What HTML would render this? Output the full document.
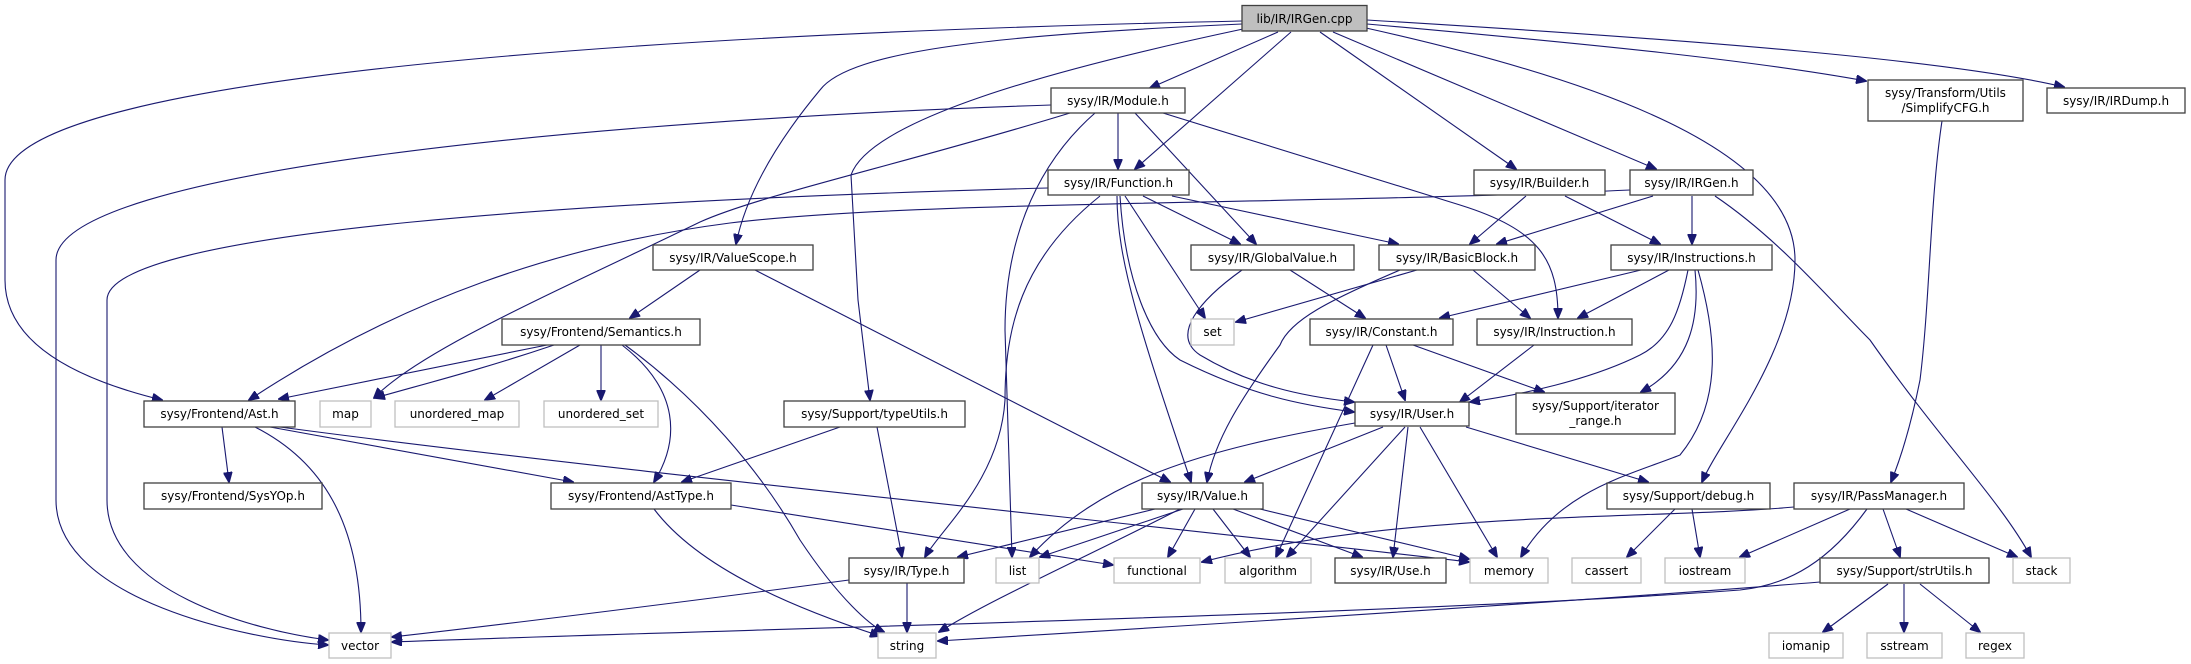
<!DOCTYPE html>
<html><head><meta charset="utf-8"><style>
html,body{margin:0;padding:0;background:#fff;}
svg{display:block;}
text{font-family:"DejaVu Sans","Liberation Sans",sans-serif;font-size:12px;fill:#000;}
.n{fill:#fff;stroke:#404040;stroke-width:1.3;}
.s{fill:#fff;stroke:#bfbfbf;stroke-width:1.3;}
.r{fill:#bfbfbf;stroke:#404040;stroke-width:1.3;}
path.e{fill:none;stroke:#191970;stroke-width:1.1;}
</style></head><body>
<svg width="2191" height="664" viewBox="0 0 2191 664" xmlns="http://www.w3.org/2000/svg">
<defs><marker id="a" markerUnits="userSpaceOnUse" markerWidth="11" markerHeight="9" refX="10" refY="4.5" orient="auto"><path d="M0,0 L11,4.5 L0,9 z" fill="#191970" stroke="#191970"/></marker></defs>
<g marker-end="url(#a)">
<path class="e" d="M1242,21 C600,35 5,80 5,180 L5,280 C5,345 80,380 162,400"/>
<path class="e" d="M1242,24 C1000,35 850,50 820,90 C770,150 745,200 736,244"/>
<path class="e" d="M1243,29 C1050,70 870,120 851,175 L858,300 L870,400"/>
<path class="e" d="M1278,32 L1150,88"/>
<path class="e" d="M1291,32 L1135,169"/>
<path class="e" d="M1320,32 L1516,169"/>
<path class="e" d="M1333,32 L1656,169"/>
<path class="e" d="M1366,28 C1600,80 1795,150 1795,260 C1795,350 1720,440 1702,482"/>
<path class="e" d="M1367,24 C1600,45 1750,60 1866,81"/>
<path class="e" d="M1367,20 C1700,40 1950,60 2064,87"/>
<path class="e" d="M1051,105 C600,120 56,170 56,260 L56,500 C56,600 250,640 328,645"/>
<path class="e" d="M1070,113 C900,165 760,195 700,222 C560,290 420,350 374,398"/>
<path class="e" d="M1095,113 C1030,170 1005,250 1005,330 L1012,557"/>
<path class="e" d="M1118,113 L1118,169"/>
<path class="e" d="M1135,113 L1256,244"/>
<path class="e" d="M1163,113 L1460,205 C1540,230 1558,260 1558,318"/>
<path class="e" d="M1048,188 C600,200 107,230 107,300 L107,500 C107,590 250,630 328,640"/>
<path class="e" d="M1100,196 C1020,260 1005,330 1005,400 C1000,480 940,530 925,557"/>
<path class="e" d="M1117,196 C1117,260 1140,330 1191,482"/>
<path class="e" d="M1120,196 C1125,280 1150,340 1180,360 C1250,395 1300,405 1354,412"/>
<path class="e" d="M1125,196 L1205,318"/>
<path class="e" d="M1143,196 L1240,244"/>
<path class="e" d="M1172,196 L1398,244"/>
<path class="e" d="M1630,190 C1300,205 920,200 730,223 C560,245 400,300 249,400"/>
<path class="e" d="M1653,196 L1497,244"/>
<path class="e" d="M1692,196 L1692,244"/>
<path class="e" d="M1715,196 C1780,240 1830,300 1870,340 C1940,440 2000,500 2031,557"/>
<path class="e" d="M1526,196 L1470,244"/>
<path class="e" d="M1565,196 L1660,244"/>
<path class="e" d="M700,270 L630,318"/>
<path class="e" d="M755,270 L1170,482"/>
<path class="e" d="M1290,270 L1365,318"/>
<path class="e" d="M1242,270 C1200,300 1170,335 1200,355 C1250,385 1300,396 1354,402"/>
<path class="e" d="M1417,270 L1236,322"/>
<path class="e" d="M1473,270 L1530,318"/>
<path class="e" d="M1400,270 C1330,300 1290,320 1280,345 C1240,400 1215,440 1207,482"/>
<path class="e" d="M1641,270 L1440,318"/>
<path class="e" d="M1669,270 L1578,318"/>
<path class="e" d="M1688,270 C1680,310 1670,340 1640,355 C1590,380 1520,395 1470,402"/>
<path class="e" d="M1695,270 C1700,320 1690,365 1641,392"/>
<path class="e" d="M1698,270 C1715,330 1725,400 1680,455 C1630,475 1560,490 1521,557"/>
<path class="e" d="M1534,345 L1460,402"/>
<path class="e" d="M1373,345 L1276,557"/>
<path class="e" d="M1386,345 L1405,400"/>
<path class="e" d="M1413,345 L1544,392"/>
<path class="e" d="M1355,423 C1200,450 1100,480 1030,557"/>
<path class="e" d="M1383,427 L1245,482"/>
<path class="e" d="M1405,427 L1287,557"/>
<path class="e" d="M1408,427 L1393,557"/>
<path class="e" d="M1420,427 L1497,557"/>
<path class="e" d="M1466,427 L1648,482"/>
<path class="e" d="M1155,509 L958,557"/>
<path class="e" d="M1183,509 L1040,557"/>
<path class="e" d="M1180,509 C1080,560 990,600 939,632"/>
<path class="e" d="M1195,509 L1168,557"/>
<path class="e" d="M1213,509 L1250,557"/>
<path class="e" d="M1233,509 L1362,557"/>
<path class="e" d="M1260,509 L1469,559"/>
<path class="e" d="M222,427 L229,482"/>
<path class="e" d="M255,427 C320,460 361,520 361,632"/>
<path class="e" d="M270,427 L573,482"/>
<path class="e" d="M280,427 C600,470 1200,530 1469,562"/>
<path class="e" d="M547,345 L279,399"/>
<path class="e" d="M554,345 C480,370 420,385 375,398"/>
<path class="e" d="M580,345 L485,400"/>
<path class="e" d="M601,345 L601,400"/>
<path class="e" d="M622,345 C680,390 680,440 654,482"/>
<path class="e" d="M625,345 C700,400 760,470 800,540 C840,600 870,625 884,632"/>
<path class="e" d="M840,427 L682,482"/>
<path class="e" d="M877,427 L902,557"/>
<path class="e" d="M654,509 C700,570 800,610 880,636"/>
<path class="e" d="M731,505 L1113,565"/>
<path class="e" d="M849,580 C700,600 500,625 392,637"/>
<path class="e" d="M907,583 L907,632"/>
<path class="e" d="M1942,121 C1930,200 1930,300 1920,380 C1910,430 1900,460 1891,482"/>
<path class="e" d="M1675,509 L1627,557"/>
<path class="e" d="M1692,509 L1700,557"/>
<path class="e" d="M1794,507 C1650,520 1400,510 1202,562"/>
<path class="e" d="M1867,509 C1830,560 1790,585 1740,590 C1400,615 700,630 392,642"/>
<path class="e" d="M1850,509 L1740,557"/>
<path class="e" d="M1883,509 L1900,557"/>
<path class="e" d="M1906,509 L2017,557"/>
<path class="e" d="M1820,582 C1600,600 1200,625 938,641"/>
<path class="e" d="M1888,584 L1823,632"/>
<path class="e" d="M1904,584 L1904,632"/>
<path class="e" d="M1920,584 L1980,632"/>
</g>
<rect class="r" x="1242" y="5.5" width="125" height="25.5"/><text x="1304.5" y="23" text-anchor="middle">lib/IR/IRGen.cpp</text>
<rect class="n" x="1051" y="88" width="134" height="25"/><text x="1118" y="105" text-anchor="middle">sysy/IR/Module.h</text>
<rect class="n" x="1868" y="80" width="155" height="41"/><text x="1945.5" y="97" text-anchor="middle">sysy/Transform/Utils</text><text x="1945.5" y="112" text-anchor="middle">/SimplifyCFG.h</text>
<rect class="n" x="2047" y="88" width="138" height="25"/><text x="2116" y="105" text-anchor="middle">sysy/IR/IRDump.h</text>
<rect class="n" x="1048" y="170" width="141" height="25"/><text x="1118.5" y="187" text-anchor="middle">sysy/IR/Function.h</text>
<rect class="n" x="1474" y="170" width="131" height="25"/><text x="1539.5" y="187" text-anchor="middle">sysy/IR/Builder.h</text>
<rect class="n" x="1630" y="170" width="123" height="25"/><text x="1691.5" y="187" text-anchor="middle">sysy/IR/IRGen.h</text>
<rect class="n" x="653" y="245" width="160" height="25"/><text x="733" y="262" text-anchor="middle">sysy/IR/ValueScope.h</text>
<rect class="n" x="1191" y="245" width="163" height="25"/><text x="1272.5" y="262" text-anchor="middle">sysy/IR/GlobalValue.h</text>
<rect class="n" x="1379" y="245" width="156" height="25"/><text x="1457" y="262" text-anchor="middle">sysy/IR/BasicBlock.h</text>
<rect class="n" x="1611" y="245" width="161" height="25"/><text x="1691.5" y="262" text-anchor="middle">sysy/IR/Instructions.h</text>
<rect class="n" x="502" y="319" width="198" height="26"/><text x="601" y="336" text-anchor="middle">sysy/Frontend/Semantics.h</text>
<rect class="s" x="1191" y="319" width="43" height="26"/><text x="1212.5" y="336" text-anchor="middle">set</text>
<rect class="n" x="1310" y="319" width="143" height="26"/><text x="1381.5" y="336" text-anchor="middle">sysy/IR/Constant.h</text>
<rect class="n" x="1477" y="319" width="155" height="26"/><text x="1554.5" y="336" text-anchor="middle">sysy/IR/Instruction.h</text>
<rect class="n" x="1516" y="393" width="159" height="41"/><text x="1595.5" y="410" text-anchor="middle">sysy/Support/iterator</text><text x="1595.5" y="425" text-anchor="middle">_range.h</text>
<rect class="n" x="144" y="401" width="151" height="26"/><text x="219.5" y="418" text-anchor="middle">sysy/Frontend/Ast.h</text>
<rect class="s" x="320" y="401" width="51" height="26"/><text x="345.5" y="418" text-anchor="middle">map</text>
<rect class="s" x="395" y="401" width="124" height="26"/><text x="457" y="418" text-anchor="middle">unordered_map</text>
<rect class="s" x="544" y="401" width="114" height="26"/><text x="601" y="418" text-anchor="middle">unordered_set</text>
<rect class="n" x="784" y="401" width="181" height="26"/><text x="874.5" y="418" text-anchor="middle">sysy/Support/typeUtils.h</text>
<rect class="n" x="1355" y="402" width="114" height="24"/><text x="1412" y="418" text-anchor="middle">sysy/IR/User.h</text>
<rect class="n" x="144" y="483" width="178" height="26"/><text x="233" y="500" text-anchor="middle">sysy/Frontend/SysYOp.h</text>
<rect class="n" x="551" y="483" width="180" height="26"/><text x="641" y="500" text-anchor="middle">sysy/Frontend/AstType.h</text>
<rect class="n" x="1142" y="483" width="121" height="26"/><text x="1202.5" y="500" text-anchor="middle">sysy/IR/Value.h</text>
<rect class="n" x="1607" y="483" width="163" height="26"/><text x="1688.5" y="500" text-anchor="middle">sysy/Support/debug.h</text>
<rect class="n" x="1794" y="483" width="170" height="26"/><text x="1879" y="500" text-anchor="middle">sysy/IR/PassManager.h</text>
<rect class="n" x="849" y="558" width="115" height="25"/><text x="906.5" y="575" text-anchor="middle">sysy/IR/Type.h</text>
<rect class="s" x="996" y="558" width="43" height="25"/><text x="1017.5" y="575" text-anchor="middle">list</text>
<rect class="s" x="1114" y="558" width="86" height="25"/><text x="1157" y="575" text-anchor="middle">functional</text>
<rect class="s" x="1225" y="558" width="86" height="25"/><text x="1268" y="575" text-anchor="middle">algorithm</text>
<rect class="n" x="1335" y="558" width="111" height="25"/><text x="1390.5" y="575" text-anchor="middle">sysy/IR/Use.h</text>
<rect class="s" x="1470" y="558" width="78" height="25"/><text x="1509" y="575" text-anchor="middle">memory</text>
<rect class="s" x="1572" y="558" width="69" height="25"/><text x="1606.5" y="575" text-anchor="middle">cassert</text>
<rect class="s" x="1665" y="558" width="80" height="25"/><text x="1705" y="575" text-anchor="middle">iostream</text>
<rect class="n" x="1820" y="558" width="169" height="25"/><text x="1904.5" y="575" text-anchor="middle">sysy/Support/strUtils.h</text>
<rect class="s" x="2013" y="558" width="57" height="25"/><text x="2041.5" y="575" text-anchor="middle">stack</text>
<rect class="s" x="329" y="633" width="62" height="25"/><text x="360" y="650" text-anchor="middle">vector</text>
<rect class="s" x="878" y="633" width="58" height="25"/><text x="907" y="650" text-anchor="middle">string</text>
<rect class="s" x="1769" y="633" width="74" height="25"/><text x="1806" y="650" text-anchor="middle">iomanip</text>
<rect class="s" x="1867" y="633" width="75" height="25"/><text x="1904.5" y="650" text-anchor="middle">sstream</text>
<rect class="s" x="1966" y="633" width="58" height="25"/><text x="1995" y="650" text-anchor="middle">regex</text>
</svg>
</body></html>
